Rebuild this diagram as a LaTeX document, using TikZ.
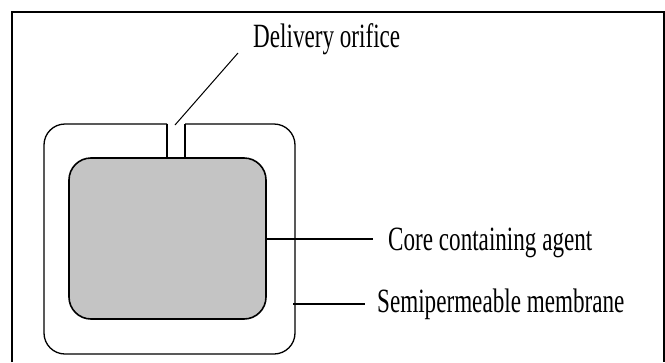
\documentclass[tikz,border=0pt]{standalone}
\usepackage{fontspec}
\newfontfamily\lblfont[FakeStretch=0.68]{Liberation Serif}
\definecolor{coregray}{RGB}{196,196,196}
\begin{document}
\begin{tikzpicture}[x=1pt,y=-1pt,
  lbl/.style={anchor=base west,inner sep=0pt,font=\lblfont\fontsize{34}{38}\selectfont},
  corebox/.style={draw=black,line width=1.6pt,fill=coregray,rounded corners=22pt,
    minimum width=197pt,minimum height=161pt,inner sep=0pt},
  membrane/.style={draw=black,line width=1.3pt},
  leader/.style={draw=black,line width=1pt}]
\useasboundingbox (0,0) rectangle (665,362);
% frame (open at the bottom)
\draw[line width=2pt] (12,362) -- (12,12) -- (663.5,12) -- (663.5,362);
% semipermeable membrane with the orifice gap
\draw[membrane,rounded corners=21pt] (167,124) -- (44,124) -- (44,354) -- (295,354) -- (295,124) -- (185,124);
% core
\node[corebox] (core) at (167.5,238.5) {};
% orifice channel
\coordinate (orL) at (167,124);
\coordinate (orR) at (185,124);
\draw[membrane] (orL) -- (orL |- core.north);
\draw[membrane] (orR) -- (orR |- core.north);
% labels
\node[lbl] (deliv) at (253,47) {Delivery orifice};
\node[lbl] (corelbl) at (388,250) {Core containing agent};
\node[lbl] (memlbl) at (377,312) {Semipermeable membrane};
% leader lines
\coordinate (dA) at (175,125);
\coordinate (dB) at (238,53);
\draw[leader] (dA) -- (dB);
\coordinate (cB) at (373,238.5);
\draw[draw=black,line width=2pt] (core.east) -- (cB);
\coordinate (mA) at (293,304);
\coordinate (mB) at (365,304);
\draw[draw=black,line width=1.3pt] (mA) -- (mB);
\end{tikzpicture}
\end{document}
